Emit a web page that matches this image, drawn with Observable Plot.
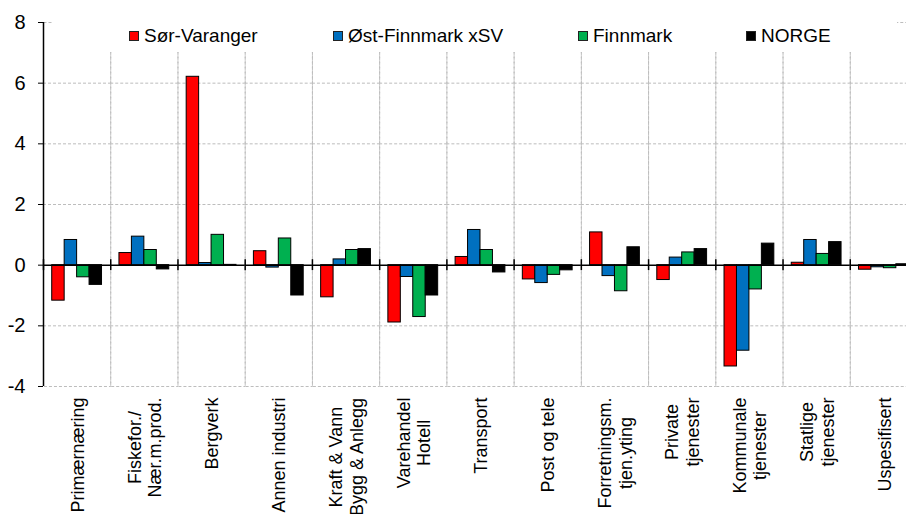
<!DOCTYPE html>
<html>
<head>
<meta charset="utf-8">
<script src="https://cdn.jsdelivr.net/npm/d3@7"></script>
<script src="https://cdn.jsdelivr.net/npm/@observablehq/plot@0.6"></script>
<style>
  html, body { margin: 0; padding: 0; background: white; overflow: hidden; }
  #wrap { position: relative; width: 906px; height: 514px; font-family: "Liberation Sans", Arial, sans-serif; }
  #legend { position: absolute; left: 53px; top: 20px; width: 844px; height: 32px; background: white; }
  .item { position: absolute; top: 0; height: 32px; display: flex; align-items: center; font-size: 19px; color: #000; white-space: nowrap; }
  .sw { width: 8px; height: 8px; border: 1px solid #222; margin-right: 5px; }
</style>
</head>
<body>
<div id="wrap"><div id="chart"></div><div id="legend"></div></div>
<script>
const categories = ["Primærnæring", "Fiskefor./\nNær.m.prod.", "Bergverk", "Annen industri",
  "Kraft & Vann\nBygg & Anlegg", "Varehandel\nHotell", "Transport", "Post og tele",
  "Forretningsm.\ntjen.yting", "Private\ntjenester", "Kommunale\ntjenester", "Statlige\ntjenester", "Uspesifisert"];
const series = ["Sør-Varanger", "Øst-Finnmark xSV", "Finnmark", "NORGE"];
const colors = ["#ff0000", "#0070c0", "#00b050", "#000000"];
const sorVaranger = [-1.17, 0.40, 6.21, 0.46, -1.06, -1.89, 0.27, -0.47, 1.08, -0.49, -3.34, 0.08, -0.15];
const ostFinnmark = [0.83, 0.94, 0.07, -0.08, 0.19, -0.39, 1.16, -0.59, -0.36, 0.25, -2.82, 0.83, -0.07];
const finnmark = [-0.40, 0.50, 1.00, 0.88, 0.50, -1.71, 0.50, -0.32, -0.86, 0.42, -0.80, 0.37, -0.10];
const norge = [-0.65, -0.14, 0.01, -1.00, 0.53, -1.00, -0.24, -0.17, 0.59, 0.53, 0.71, 0.76, 0.03];
const yTicks = [-4, -2, 0, 2, 4, 6, 8];
const legendLeft = [76, 280, 525, 693];

const valuesBySeries = [sorVaranger, ostFinnmark, finnmark, norge];
const data = [];
categories.forEach((c, i) => series.forEach((s, j) => data.push({category: c, series: s, value: valuesBySeries[j][i]})));

const width = 906, marginLeft = 43, marginRight = -11;
const step = (width - marginLeft - marginRight) / categories.length;

const ctx = document.createElement("canvas").getContext("2d");
ctx.font = "18px 'Liberation Sans'";
const labelWidth = c => Math.max(...c.split("\n").map(l => ctx.measureText(l).width));

const labelMarks = categories.map(c => Plot.text([c], {
  fx: d => d, text: d => d, frameAnchor: "bottom", rotate: -90,
  textAnchor: "middle", lineAnchor: "middle", lineHeight: 1.15,
  dy: 11 + labelWidth(c) / 2, fontSize: 18, fill: "black"
}));

const grid = {stroke: "#bdbdbd", strokeOpacity: 1, strokeDasharray: "3,2", strokeWidth: 1};

const chart = Plot.plot({
  width, height: 514,
  marginLeft, marginRight, marginTop: 22, marginBottom: 128,
  style: {fontFamily: "'Liberation Sans', Arial, sans-serif", fontSize: "18px", background: "white", color: "black"},
  fx: {domain: categories, padding: 0, axis: null, round: false},
  x: {domain: series, paddingInner: 0, paddingOuter: 0.7, axis: null, round: false},
  y: {domain: [-4, 8], axis: null},
  color: {domain: series, range: colors},
  marks: [
    Plot.frame(grid),
    Plot.gridY([-2, 2, 4, 6], grid),
    Plot.barY(data, {fx: "category", x: "series", y: "value", fill: "series", stroke: "black", strokeWidth: 1, insetLeft: 0, insetRight: 0}),
    Plot.ruleY([0], {stroke: "black", strokeWidth: 1.5}),
    Plot.ruleX(categories, {fx: d => d, x: null, y1: -0.18, y2: 0.18, dx: -step / 2, stroke: "black", strokeWidth: 1.5}),
    Plot.ruleX([categories[0]], {fx: d => d, x: null, y1: -4, y2: 8, dx: -step / 2, stroke: "black", strokeWidth: 1.5}),
    Plot.axisY({ticks: yTicks, tickSize: 5, tickPadding: 13, fontSize: 20, tickFormat: d => String(d), stroke: "black", label: null}),
    ...labelMarks
  ]
});
document.getElementById("chart").append(chart);

const legend = document.getElementById("legend");
series.forEach((s, i) => {
  const item = document.createElement("div");
  item.className = "item";
  item.style.left = legendLeft[i] + "px";
  const sw = document.createElement("span");
  sw.className = "sw";
  sw.style.background = colors[i];
  item.append(sw, document.createTextNode(s));
  legend.append(item);
});
</script>
</body>
</html>
